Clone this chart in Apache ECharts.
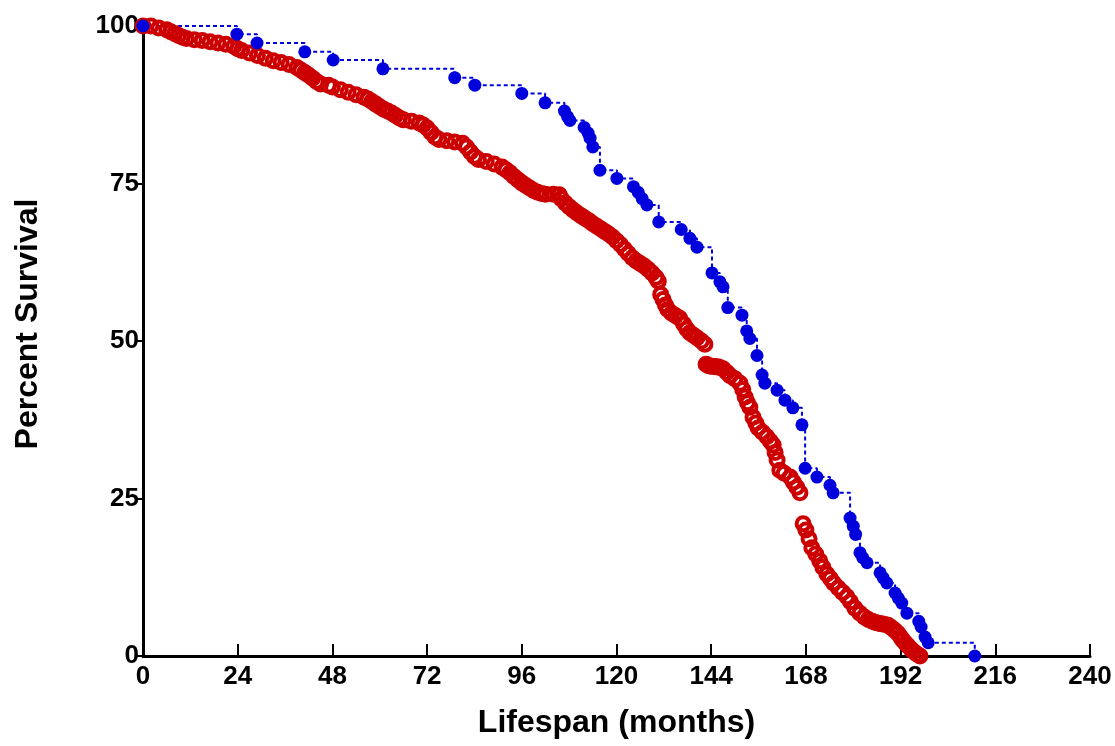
<!DOCTYPE html>
<html>
<head>
<meta charset="utf-8">
<script src="https://cdn.jsdelivr.net/npm/echarts@6/dist/echarts.min.js"></script>
<style>
  html, body { margin: 0; padding: 0; background: #fff; }
  #main { width: 1115px; height: 746px; }
</style>
</head>
<body>
<div id="main"></div>
<script>
    // x ticks (months) and y ticks (percent)
    var xTicks = [0, 24, 48, 72, 96, 120, 144, 168, 192, 216, 240];
    var yTicks = [0, 25, 50, 75, 100];

    // blue group: [month, percent survival]
    var blueSurvival = [
        [0, 100], [23.8, 98.7], [28.9, 97.3], [41, 95.9], [48.2, 94.6], [60.8, 93.2],
        [79, 91.8], [84.1, 90.6], [96, 89.3], [101.9, 87.8], [106.8, 86.5], [107.6, 85.6],
        [108.2, 85], [111.8, 83.9], [112.8, 83], [113.3, 82.2], [114, 80.8], [115.8, 77.1],
        [120.1, 75.8], [124.3, 74.5], [125.5, 73.6], [126.5, 72.6], [127.7, 71.6], [130.7, 68.9],
        [136.4, 67.7], [138.6, 66.3], [140.4, 64.9], [144.2, 60.8], [146.2, 59.4], [147, 58.6],
        [148.2, 55.3], [151.8, 54.1], [153, 51.6], [153.8, 50.4], [155.6, 47.7], [156.9, 44.6],
        [157.6, 43.3], [160.7, 42.2], [162.7, 40.6], [164.7, 39.4], [167, 36.7], [167.8, 29.8],
        [170.8, 28.4], [174.1, 27.1], [174.9, 25.9], [179.2, 21.9], [180, 20.6], [180.6, 19.3],
        [181.7, 16.4], [182.4, 15.6], [183.5, 14.8], [186.8, 13.2], [187.6, 12.4], [188.5, 11.6],
        [190.6, 10], [191.4, 9.2], [192.3, 8.4], [193.6, 6.8], [196.6, 5.5], [197.2, 4.6],
        [198.2, 3], [199, 2.1], [210.8, 0]
    ];

    // red group: [month, percent survival]
    var redSurvival = [
        [0, 100], [2, 100], [4, 99.7], [6, 99.4], [7, 99.1], [8, 98.8], [9, 98.5], [10, 98.2],
        [11, 98], [13, 97.8], [15, 97.7], [17, 97.5], [19, 97.3], [21, 97.1], [23, 96.8],
        [24, 96.4], [25, 96.1], [27, 95.7], [29, 95.3], [31, 94.9], [33, 94.5], [35, 94.2],
        [37, 93.9], [39, 93.4], [40, 93], [41, 92.6], [42, 92.2], [43, 91.7], [44, 91.2],
        [45, 90.8], [47, 90.6], [48, 90.3], [50, 89.9], [52, 89.5], [54, 89.1], [56, 88.7],
        [57, 88.4], [58, 88], [59, 87.6], [60, 87.2], [61, 86.8], [62, 86.5], [63, 86.2],
        [64, 85.8], [65, 85.4], [66, 85.1], [68, 84.9], [70, 84.6], [71, 84.3], [72, 83.8],
        [73, 83.1], [74, 82.4], [75, 82], [77, 81.8], [79, 81.6], [81, 81.4], [82, 80.8],
        [83, 80], [84, 79.3], [85, 78.8], [87, 78.5], [89, 78.1], [91, 77.6], [92, 77.2],
        [93, 76.7], [94, 76.1], [95, 75.6], [96, 75.1], [97, 74.7], [98, 74.3], [99, 73.9],
        [100, 73.6], [101, 73.4], [102, 73.3], [104, 73.3], [105.5, 73.2], [106, 72.6],
        [107, 71.9], [108, 71.3], [109, 70.8], [110, 70.3], [111, 69.9], [112, 69.5],
        [113, 69.1], [114, 68.6], [115, 68.2], [116, 67.8], [117, 67.4], [118, 67],
        [119, 66.5], [120, 65.9], [121, 65.3], [122, 64.6], [123, 63.9], [124, 63.2],
        [125, 62.7], [126, 62.3], [127, 61.9], [128, 61.4], [129, 60.8], [130, 60.1],
        [130.6, 59.5], [131.2, 57.4], [131.8, 56.6], [132.4, 55.7], [133, 55], [134, 54.4],
        [135, 54], [136, 53.6], [137, 52.7], [137.8, 51.9], [138.6, 51.3], [139.5, 50.9],
        [140.4, 50.5], [141.5, 50], [142.4, 49.5], [142.7, 46.3], [143.2, 46.1], [143.8, 46],
        [144.4, 46], [145, 45.9], [145.6, 45.9], [146.2, 45.8], [147, 45.6], [148, 45],
        [148.8, 44.5], [150, 44], [151.3, 43.3], [152, 42.3], [152.6, 41.1], [153.2, 40.2],
        [153.8, 39.5], [154.6, 37.9], [155.3, 37], [155.9, 36.2], [157, 35.5], [158.1, 34.8],
        [159, 34.1], [159.7, 33.5], [160.2, 32.3], [160.7, 31.1], [161.4, 29.5], [162.5, 29],
        [164, 28.4], [164.8, 27.6], [165.7, 26.8], [166.5, 25.9], [167.3, 21], [168, 20],
        [168.8, 18.6], [169.5, 17.2], [170.5, 16.2], [171.5, 15.1], [172.3, 14.1], [173.3, 13],
        [174.2, 12.3], [175, 11.6], [176.2, 10.8], [177.3, 10.1], [178.4, 9.4], [179.3, 8.6],
        [180.4, 7.6], [181.7, 6.8], [182.8, 6.2], [183.8, 5.8], [184.8, 5.5], [185.6, 5.3],
        [186.4, 5.2], [187.2, 5.1], [188, 5], [188.8, 4.9], [189.7, 4.5], [190.5, 4.1],
        [191.3, 3.6], [192, 3], [192.6, 2.5], [193.3, 2], [193.9, 1.6], [194.6, 1.1],
        [195.3, 0.7], [196.1, 0.3], [196.9, 0]
    ];

    var labelFont = {
        fontFamily: 'Liberation Sans',
        fontWeight: 'bold',
        color: '#000'
    };

    var myChart = echarts.init(document.getElementById('main'));
    var option = {
        animation: false,
        backgroundColor: '#fff',
        grid: {
            left: 143,
            right: 25,
            top: 26,
            bottom: 90
        },
        xAxis: {
            type: 'value',
            min: xTicks[0],
            max: xTicks[xTicks.length - 1],
            interval: xTicks[1] - xTicks[0],
            name: 'Lifespan (months)',
            nameLocation: 'middle',
            nameGap: 51,
            nameTextStyle: Object.assign({ fontSize: 32 }, labelFont),
            axisLine: { lineStyle: { color: '#000', width: 3 } },
            axisTick: { inside: true, length: 12, lineStyle: { color: '#000', width: 2 } },
            axisLabel: Object.assign({ fontSize: 26, margin: 8 }, labelFont),
            splitLine: { show: false }
        },
        yAxis: {
            type: 'value',
            min: yTicks[0],
            max: yTicks[yTicks.length - 1],
            interval: yTicks[1] - yTicks[0],
            name: 'Percent Survival',
            nameLocation: 'middle',
            nameGap: 99,
            nameTextStyle: Object.assign({ fontSize: 32, padding: [0, 0, 0, 34] }, labelFont),
            axisLine: { show: true, lineStyle: { color: '#000', width: 3 } },
            axisTick: { show: true, length: 7, lineStyle: { color: '#000', width: 2 } },
            axisLabel: Object.assign({ fontSize: 26, margin: 4 }, labelFont),
            splitLine: { show: false }
        },
        series: [{
            name: 'red',
            type: 'line',
            data: redSurvival,
            clip: false,
            symbol: 'circle',
            symbolSize: 13,
            itemStyle: {
                color: 'rgba(0,0,0,0)',
                borderColor: '#cc0000',
                borderWidth: 4
            },
            lineStyle: { width: 0, opacity: 0 }
        }, {
            name: 'blue',
            type: 'line',
            step: 'end',
            data: blueSurvival,
            clip: false,
            symbol: 'circle',
            symbolSize: 13,
            itemStyle: {
                color: '#0000dd',
                borderWidth: 0
            },
            lineStyle: { color: '#0000dd', width: 2, type: [4, 3] }
        }]
    };
    myChart.setOption(option);
</script>
</body>
</html>
